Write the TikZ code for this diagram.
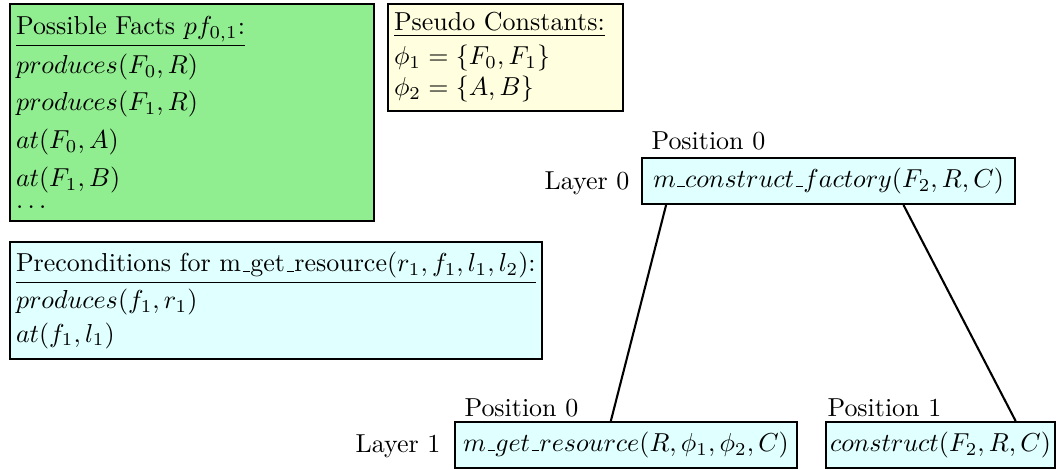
\documentclass[tikz,border=0pt]{standalone}
\usepackage{amsmath,amsfonts}
\usepackage{tikz}
\usetikzlibrary{calc}
\definecolor{factgreen}{RGB}{144,238,144}
\definecolor{constyellow}{RGB}{255,255,224}
\definecolor{taskcyan}{RGB}{224,255,255}
\newcommand{\usc}{\mbox{\kern.06em\vbox{\hrule width.3em}}}

\begin{document}
\begin{tikzpicture}[x=0.385pt,y=-0.385pt]
      \tikzstyle{task}=[rectangle,draw,thick,fill=taskcyan,minimum height=17.7pt,inner sep=0pt]
      \tikzstyle{info}=[rectangle,draw,thick,anchor=north west,align=left,inner xsep=2.3pt,inner ysep=0pt]
      \tikzstyle{lbl}=[inner sep=0pt]
      \useasboundingbox (0,0) rectangle (1059,470);
      % info boxes
      \node[info,fill=factgreen,text width=135.5pt,minimum height=83.5pt] at (9,3) (facts) {%
        \underline{Possible Facts $pf_{0,1}$:}\\[1.5pt]
        $produces(F_0,R)$\\[2.5pt]
        $produces(F_1,R)$\\[2.5pt]
        $at(F_0,A)$\\[2.5pt]
        $at(F_1,B)$\\[-3.5pt]
        $\dots$};
      \node[info,fill=constyellow,text width=85.9pt,minimum height=41.2pt] at (387,3) (consts) {%
        \underline{Pseudo Constants:}\\[1pt]
        $\phi_1=\{F_0,F_1\}$\\[0pt]
        $\phi_2=\{A,B\}$};
      \node[info,fill=taskcyan,text width=200.2pt,minimum height=45pt] at (9,241) (precond) {%
        \underline{Preconditions for m\usc get\usc resource$(r_1,f_1,l_1,l_2)$:}\\[2pt]
        $produces(f_1,r_1)$\\[1pt]
        $at(f_1,l_1)$};
      % task network
      \node[task,minimum width=143.6pt] at (828.5,181) (root) {$m\usc construct\usc factory(F_2,R,C)$};
      \node[task,minimum width=131.7pt] at (626,445) (c0) {$m\usc get\usc resource(R,\phi_1,\phi_2,C)$};
      \node[task,minimum width=88.2pt] at (940.5,445) (c1) {$construct(F_2,R,C)$};
      \node[lbl,anchor=base east] at (630,190) (l0) {Layer 0};
      \node[lbl,anchor=base east] at (441,453) (l1) {Layer 1};
      \foreach \n/\x/\y/\p in {p0/651/150/0,p1/464/417/0,p2/827/417/1}
        \node[lbl,anchor=base west] at (\x,\y) (\n) {Position \p};
      \draw[thick] ($(root.south west)!0.067!(root.south east)$) -- ($(c0.north west)!0.456!(c0.north east)$);
      \draw[thick] ($(root.south west)!0.70!(root.south east)$) -- ($(c1.north west)!0.825!(c1.north east)$);
    \end{tikzpicture}
\end{document}
